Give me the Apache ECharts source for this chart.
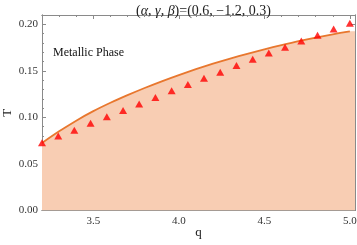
<!DOCTYPE html>
<html>
<head>
<meta charset="utf-8">
<script src="https://cdn.jsdelivr.net/npm/echarts@6/dist/echarts.min.js"></script>
<style>html,body{margin:0;padding:0;background:#fff;}#c{width:357px;height:245px;}</style>
</head>
<body>
<div id="c"></div>
<script>
// Boundary curve (orange line)
var curveQ = [3.2, 3.3, 3.4, 3.5, 3.6, 3.7, 3.8, 3.9, 4.0, 4.1, 4.2, 4.3, 4.4, 4.5, 4.6, 4.7, 4.8, 4.9, 5.0];
var curveT = [0.0725, 0.0850, 0.0965, 0.1067, 0.1157, 0.1239, 0.1316, 0.1388, 0.1455, 0.1518, 0.1577, 0.1632, 0.1683, 0.1731, 0.1776, 0.1819, 0.1858, 0.1893, 0.1925];
// Red triangle points
var pointQ = [3.2, 3.295, 3.389, 3.484, 3.579, 3.674, 3.768, 3.863, 3.958, 4.053, 4.147, 4.242, 4.337, 4.432, 4.526, 4.621, 4.716, 4.811, 4.905, 5.0];
var pointT = [0.0727, 0.0799, 0.0863, 0.0938, 0.1006, 0.1075, 0.1145, 0.1214, 0.1285, 0.1353, 0.1421, 0.1485, 0.1557, 0.1625, 0.1692, 0.1753, 0.1821, 0.1882, 0.1950, 0.2011];
// Axis ticks
var xMajor = [3.5, 4.0, 4.5, 5.0];
var xMinor = [3.3, 3.4, 3.6, 3.7, 3.8, 3.9, 4.1, 4.2, 4.3, 4.4, 4.6, 4.7, 4.8, 4.9];
var yMajor = [0, 0.05, 0.10, 0.15, 0.20];
var yMinor = [0.01, 0.02, 0.03, 0.04, 0.06, 0.07, 0.08, 0.09, 0.11, 0.12, 0.13, 0.14, 0.16, 0.17, 0.18, 0.19];
var xMin = 3.2, xMax = 5.03, yMin = 0, yMax = 0.21;

var FONT = '"Liberation Serif", "DejaVu Serif", serif';
var AX = '#8a8a8a';
var LBL = '#333';

function xAx(pos, vals, len, labels, extra) {
  var o = {
    type: 'value', min: xMin, max: xMax, position: pos,
    axisLine: {show: true, onZero: false, lineStyle: {color: AX, width: 1}},
    axisTick: {show: true, inside: true, length: len, customValues: vals, lineStyle: {color: AX}},
    axisLabel: {show: labels, customValues: vals, fontFamily: FONT, fontSize: 11, color: LBL, margin: 5,
      formatter: function (v) { return v.toFixed(1); }},
    splitLine: {show: false}
  };
  return Object.assign(o, extra || {});
}
function yAx(pos, vals, len, labels, extra) {
  var o = {
    type: 'value', min: yMin, max: yMax, position: pos,
    axisLine: {show: true, onZero: false, lineStyle: {color: AX, width: 1}},
    axisTick: {show: true, inside: true, length: len, customValues: vals, lineStyle: {color: AX}},
    axisLabel: {show: labels, customValues: vals, fontFamily: FONT, fontSize: 11, color: LBL, margin: 4,
      formatter: function (v) { return v.toFixed(2); }},
    splitLine: {show: false}
  };
  return Object.assign(o, extra || {});
}

var areaData = curveQ.map(function (q, i) { return [q, curveT[i]]; });
areaData.push([xMax, curveT[curveT.length - 1]]);
var lineData = curveQ.map(function (q, i) { return [q, curveT[i]]; });
var pts = pointQ.map(function (q, i) { return [q, pointT[i]]; });

var chart = echarts.init(document.getElementById('c'), null, {renderer: 'canvas'});
chart.setOption({
  animation: false,
  backgroundColor: '#fff',
  title: {
    text: '({i|α}, {i|γ}, {i|β})=(0.6, −1.2, 0.3)',
    left: 198.5, textAlign: 'center', top: -1,
    textStyle: {fontFamily: FONT, fontSize: 14, fontWeight: 'normal', color: '#222',
      rich: {i: {fontFamily: FONT, fontSize: 14, fontStyle: 'italic', color: '#222'}}}
  },
  grid: {left: 42, right: 2, top: 15, bottom: 34.5, containLabel: false, outerBoundsMode: 'none'},
  xAxis: [
    xAx('bottom', xMajor, 4, true, {name: 'q', nameLocation: 'middle', nameGap: 16, nameMoveOverlap: false,
      nameTextStyle: {fontFamily: FONT, fontSize: 13, color: '#222'}}),
    xAx('bottom', xMinor, 2, false),
    xAx('top', xMajor, 4, false),
    xAx('top', xMinor, 2, false)
  ],
  yAxis: [
    yAx('left', yMajor, 4, true, {name: 'T', nameLocation: 'middle', nameGap: 28, nameRotate: 90, nameMoveOverlap: false,
      nameTextStyle: {fontFamily: FONT, fontSize: 13, color: '#222'}}),
    yAx('left', yMinor, 2, false),
    yAx('right', yMajor, 4, false),
    yAx('right', yMinor, 2, false)
  ],
  series: [
    {type: 'line', data: areaData, xAxisIndex: 0, yAxisIndex: 0, symbol: 'none', smooth: 0.3,
      lineStyle: {width: 0}, areaStyle: {color: '#F8CDB3', opacity: 1}, silent: true, z: 1},
    {type: 'line', data: lineData, xAxisIndex: 0, yAxisIndex: 0, symbol: 'none', smooth: 0.3,
      lineStyle: {width: 1.8, color: '#E8772E'}, z: 3},
    {type: 'scatter', data: pts, xAxisIndex: 0, yAxisIndex: 0, symbol: 'triangle', symbolSize: [8, 7],
      itemStyle: {color: '#FF0000'}, z: 4}
  ],
  graphic: [
    {type: 'text', left: 53, top: 47, style: {text: 'Metallic Phase', font: '12px ' + FONT, fill: '#111'}},
    {type: 'text', left: 225, top: 156, style: {text: 'Insulating Phase', font: '12px ' + FONT, fill: '#111'}}
  ]
});
</script>
</body>
</html>
